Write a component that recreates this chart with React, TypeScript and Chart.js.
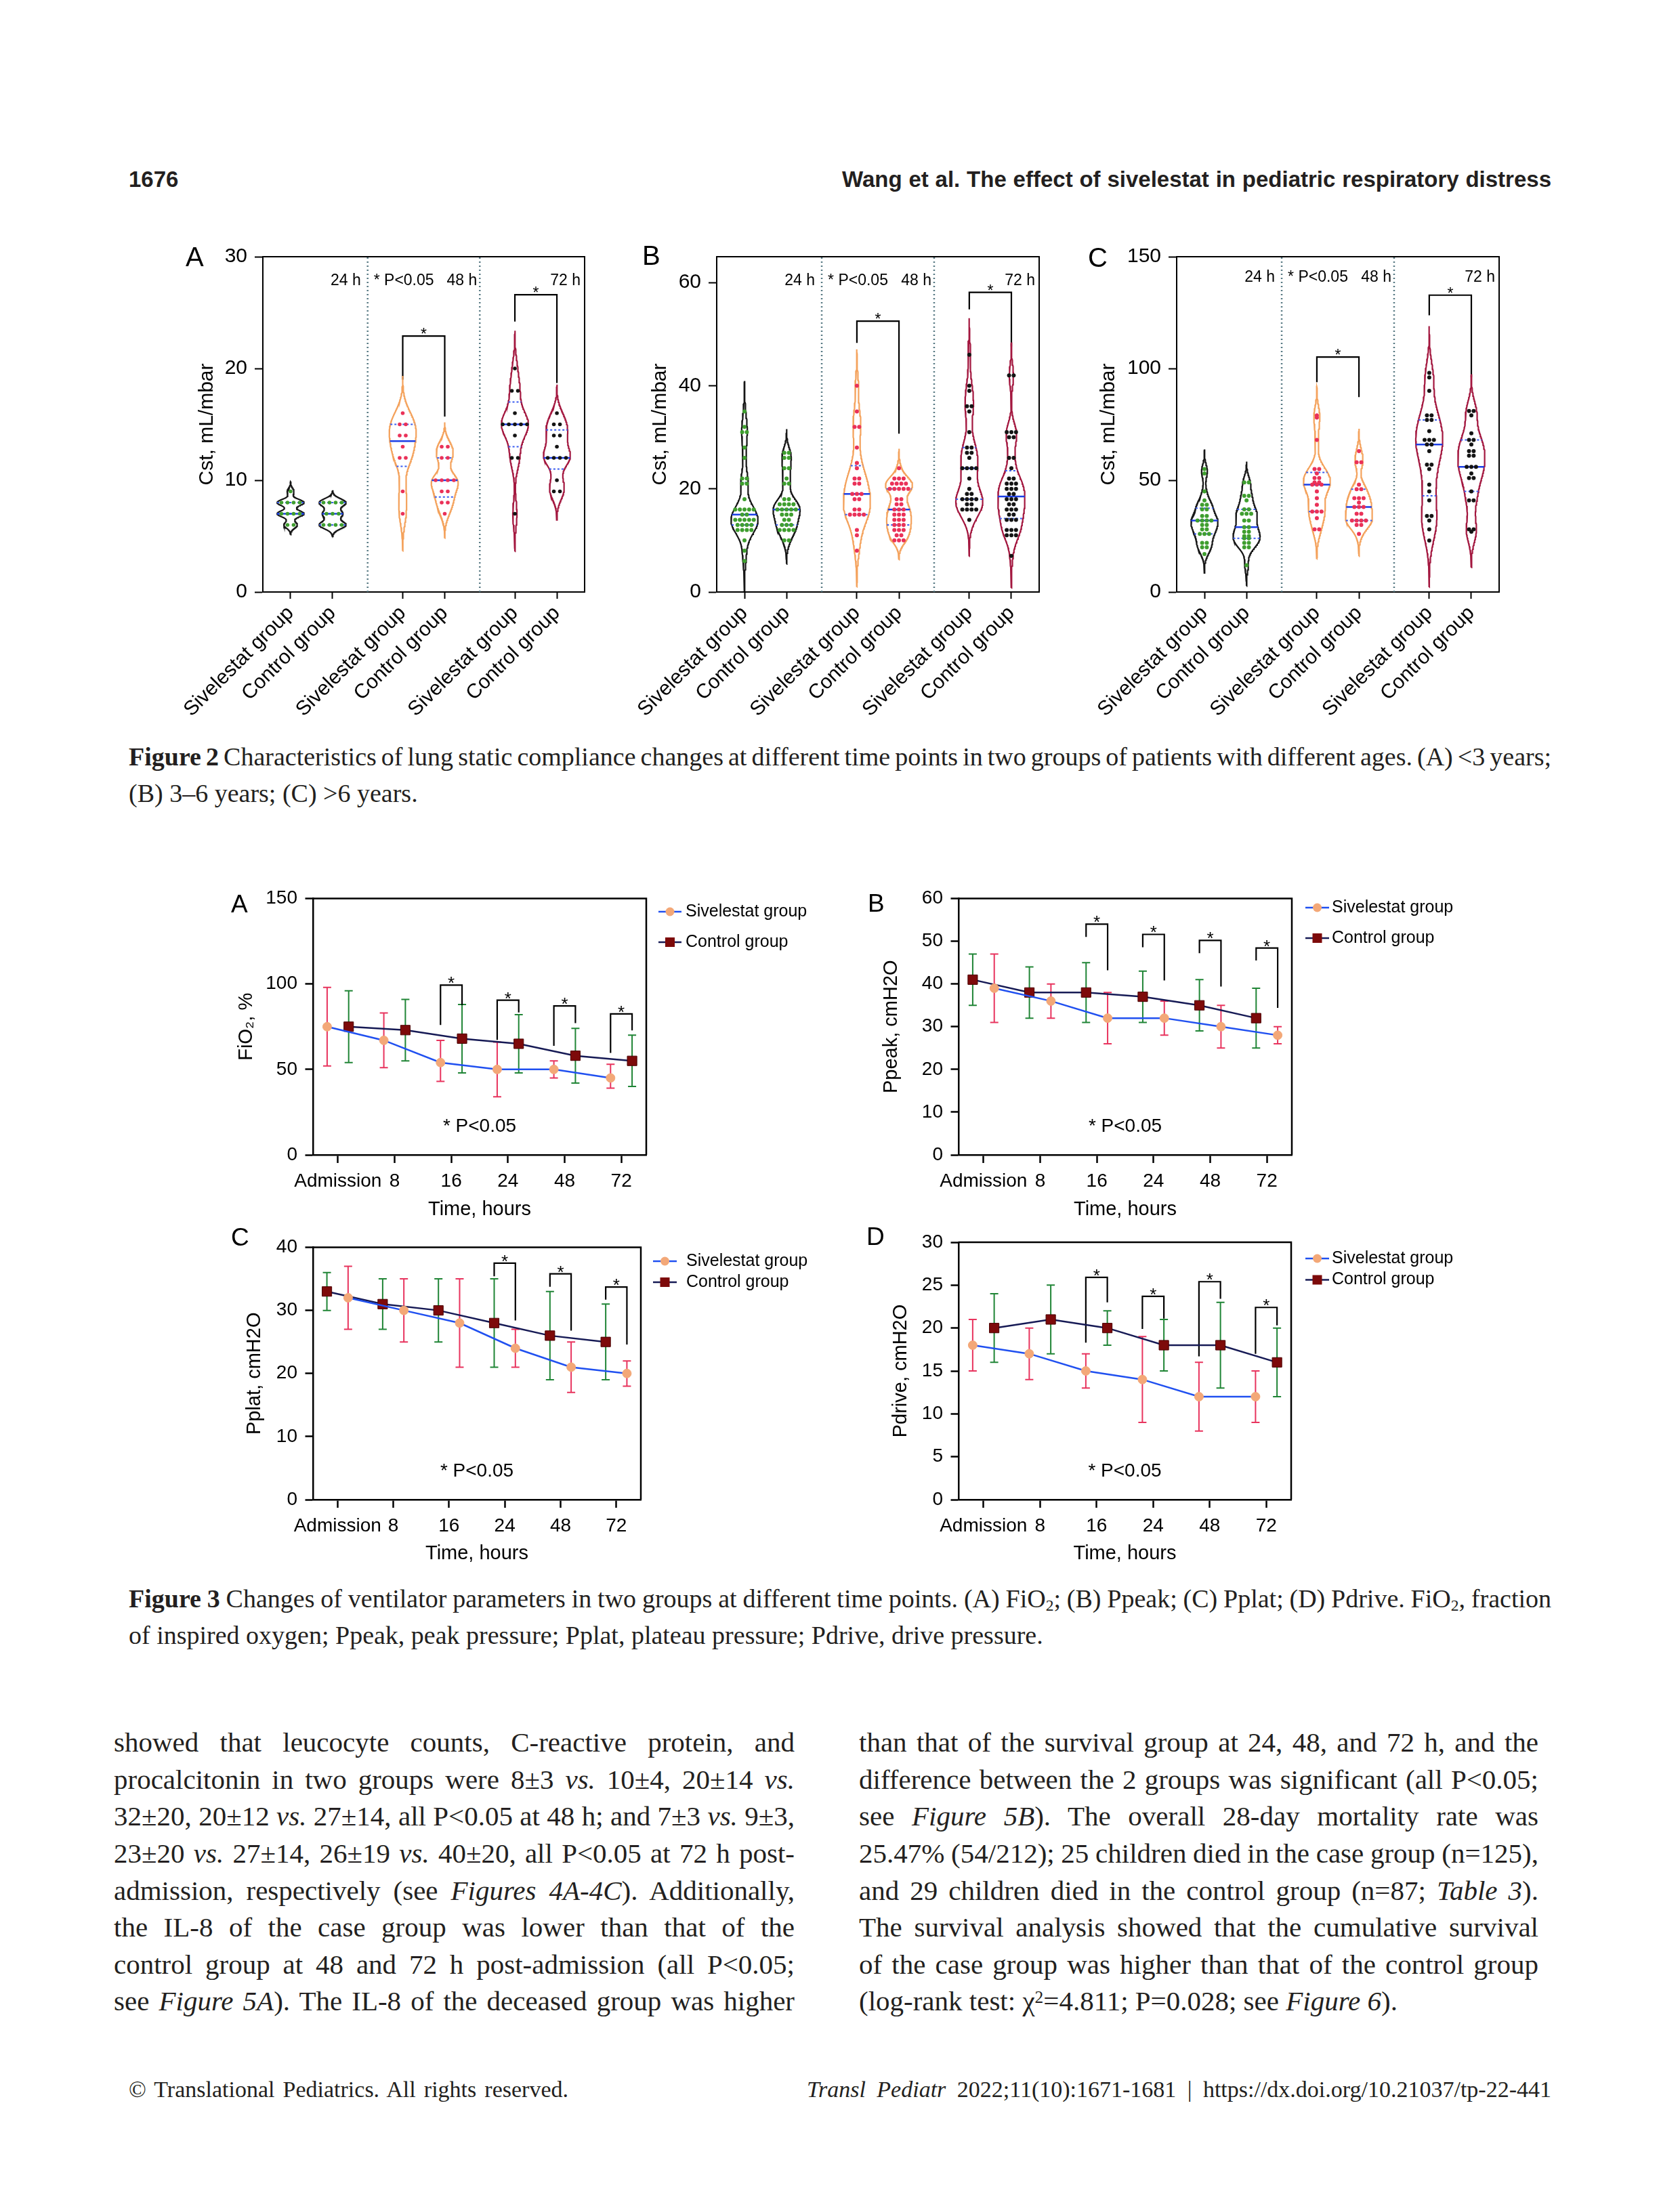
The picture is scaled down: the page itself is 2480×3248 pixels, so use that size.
import React, { useEffect, useLayoutEffect, useRef } from 'react';
import { Chart, registerables } from 'chart.js';

Chart.register(...registerables);

const SANS = '"Liberation Sans", Arial, Helvetica, sans-serif';
const SERIF = '"Liberation Serif", "Times New Roman", serif';
const INK = '#231f20';
const PAGE_W = 2480;
const PAGE_H = 3248;

Chart.defaults.font.family = SANS;
Chart.defaults.color = '#000';

// ================= Figure 2 data: Cst, mL/mbar =================
const fig2GroupLabels = ['Sivelestat group', 'Control group'];
const fig2TimeLabels = ['24 h', '48 h', '72 h'];
const fig2Note = '* P<0.05';
const fig2YTitle = 'Cst, mL/mbar';

// (A) <3 years
const cstA24Siv = [9, 8, 8, 8, 8, 7, 7, 7, 7, 6, 6];
const cstA24Ctrl = [8, 8, 8, 8, 7, 7, 7, 6, 6, 6, 6];
const cstA48Siv = [16, 15, 15, 14, 14, 13, 12, 12, 9, 7];
const cstA48Ctrl = [13, 13, 12, 12, 10, 10, 10, 10, 9, 9, 8, 8, 7];
const cstA72Siv = [20, 18, 18, 16, 15, 15, 15, 15, 15, 14, 12, 12, 7];
const cstA72Ctrl = [16, 15, 15, 14, 14, 13, 12, 12, 12, 12, 10, 9, 9];
const cstATicks = [0, 10, 20, 30];
const cstABracketTop = [22.9, 26.6];
const cstABracketLeft = [19.0, 24.2];
const cstABracketRight = [15.7, 18.7];

// (B) 3-6 years
const cstB24Siv = [35, 32, 31, 31, 28, 26, 22, 22, 21, 21, 18, 16, 16, 16, 16, 16, 15, 15, 14, 14, 14, 14, 14, 13, 13, 13, 13, 12, 12, 12, 12, 10, 8, 6];
const cstB24Ctrl = [27, 27, 26, 26, 24, 24, 22, 21, 21, 18, 18, 17, 17, 17, 17, 16, 16, 16, 16, 16, 15, 15, 15, 14, 14, 13, 13, 13, 12, 12, 12, 12, 10, 10];
const cstB48Siv = [40, 35, 32, 32, 28, 25, 24, 22, 22, 21, 21, 19, 19, 19, 18, 18, 16, 16, 15, 15, 15, 15, 12, 11, 8];
const cstB48Ctrl = [24, 22, 22, 22, 21, 21, 21, 21, 20, 20, 20, 20, 20, 18, 18, 17, 17, 16, 16, 16, 15, 15, 15, 14, 14, 14, 13, 13, 13, 12, 12, 12, 11, 11, 10, 10, 10];
const cstB72Siv = [46, 40, 39, 36, 36, 35, 31, 28, 28, 27, 27, 26, 24, 24, 24, 24, 22, 20, 19, 19, 18, 18, 18, 18, 17, 17, 16, 16, 16, 16, 14];
const cstB72Ctrl = [42, 42, 31, 31, 31, 30, 30, 26, 26, 24, 22, 22, 21, 21, 21, 20, 20, 20, 19, 19, 18, 18, 18, 17, 17, 16, 16, 16, 15, 15, 14, 14, 14, 12, 12, 12, 11, 11, 11, 7];
const cstBTicks = [0, 20, 40, 60];
const cstBBracketTop = [52.5, 58.1];
const cstBBracketLeft = [48.3, 54.8];
const cstBBracketRight = [30.7, 47.6];

// (C) >6 years
const cstC24Siv = [55, 53, 45, 41, 39, 39, 37, 37, 34, 34, 32, 32, 32, 32, 30, 30, 28, 28, 26, 26, 26, 22, 22, 20, 20, 17];
const cstC24Ctrl = [49, 49, 43, 43, 41, 37, 37, 35, 35, 35, 32, 32, 29, 29, 27, 27, 25, 25, 24, 24, 22, 22, 20, 20, 12];
const cstC48Siv = [79, 78, 68, 55, 55, 53, 51, 51, 49, 49, 48, 48, 48, 45, 42, 39, 36, 36, 36, 33, 28, 28];
const cstC48Ctrl = [63, 58, 58, 48, 46, 46, 42, 42, 42, 40, 38, 38, 38, 35, 35, 32, 32, 32, 32, 30, 30, 26];
const cstC72Siv = [98, 96, 90, 79, 79, 77, 77, 72, 68, 68, 68, 66, 66, 63, 57, 57, 55, 48, 45, 41, 34, 34, 32, 28, 23];
const cstC72Ctrl = [81, 81, 79, 71, 68, 68, 66, 63, 63, 61, 61, 56, 56, 56, 53, 51, 51, 45, 41, 41, 28, 28, 27];
const cstCTicks = [0, 50, 100, 150];
const cstCBracketTop = [105.1, 132.8];
const cstCBracketLeft = [93.9, 123.8];
const cstCBracketRight = [87.2, 96.0];

// ================= Figure 3 data =================
const timeLabels = ['Admission', '8', '16', '24', '48', '72'];
const seriesNames = ['Sivelestat group', 'Control group'];
const timeTitle = 'Time, hours';
const fig3Note = '* P<0.05';

const fio2SivMean = [75, 67, 54, 50, 50, 45];
const fio2SivHi = [98, 83, 67, 66, 55, 53];
const fio2SivLo = [52, 51, 43, 34, 45, 39];
const fio2CtrlMean = [75, 73, 68, 65, 58, 55];
const fio2CtrlHi = [96, 91, 88, 82, 74, 70];
const fio2CtrlLo = [54, 55, 48, 48, 42, 40];
const fio2Ticks = [0, 50, 100, 150];
const fio2BracketAt = [2, 3, 4, 5];
const fio2BracketTop = [99.3, 90.5, 87.1, 82.5];
const fio2BracketLeft = [76, 67.3, 63.8, 59.6];
const fio2BracketRight = [87.6, 83.3, 77.1, 72.8];

const ppeakSivMean = [39, 36, 32, 32, 30, 28];
const ppeakSivHi = [47, 40, 38, 36, 35, 30];
const ppeakSivLo = [31, 32, 26, 28, 25, 26];
const ppeakCtrlMean = [41, 38, 38, 37, 35, 32];
const ppeakCtrlHi = [47, 44, 45, 43, 41, 39];
const ppeakCtrlLo = [35, 32, 31, 31, 29, 25];
const ppeakTicks = [0, 10, 20, 30, 40, 50, 60];
const ppeakBracketAt = [2, 3, 4, 5];
const ppeakBracketTop = [54, 51.6, 50.2, 48.4];
const ppeakBracketLeft = [51, 48.6, 47.2, 45.5];
const ppeakBracketRight = [43.2, 40.8, 39.4, 34.4];

const pplatSivMean = [32, 30, 28, 24, 21, 20];
const pplatSivHi = [37, 35, 35, 27, 25, 22];
const pplatSivLo = [27, 25, 21, 21, 17, 18];
const pplatCtrlMean = [33, 31, 30, 28, 26, 25];
const pplatCtrlHi = [36, 35, 35, 35, 33, 31];
const pplatCtrlLo = [30, 27, 25, 21, 19, 19];
const pplatTicks = [0, 10, 20, 30, 40];
const pplatBracketAt = [3, 4, 5];
const pplatBracketTop = [37.5, 35.8, 33.7];
const pplatBracketLeft = [35.4, 33.75, 31.7];
const pplatBracketRight = [28.4, 26.8, 24.6];

const pdriveSivMean = [18, 17, 15, 14, 12, 12];
const pdriveSivHi = [21, 20, 17, 19, 16, 15];
const pdriveSivLo = [15, 14, 13, 9, 8, 9];
const pdriveCtrlMean = [20, 21, 20, 18, 18, 16];
const pdriveCtrlHi = [24, 25, 22, 21, 23, 20];
const pdriveCtrlLo = [16, 17, 18, 15, 13, 12];
const pdriveTicks = [0, 5, 10, 15, 20, 25, 30];
const pdriveBracketAt = [2, 3, 4, 5];
const pdriveBracketTop = [25.9, 23.7, 25.4, 22.4];
const pdriveBracketLeft = [18.3, 19.9, 16.7, 17.0];
const pdriveBracketRight = [23.0, 21.1, 23.4, 20.3];

// ================= styles =================
const timeStyles = [
  { outline: '#161616', dot: '#3f9e2f' },
  { outline: '#f4a25c', dot: '#ea3158' },
  { outline: '#a3173f', dot: '#141414' },
];
const MEDIAN_COLOR = '#1c3fe6';
const QUART_COLOR = '#3a5cf0';
const SEP_COLOR = '#587a84';
const SIV_LINE = '#2050f0';
const SIV_PT = '#f3a878';
const SIV_ERR = '#e8345e';
const CTRL_LINE = '#161a55';
const CTRL_PT = '#7d0a0a';
const CTRL_ERR = '#208536';

// violin x layout (axis units)
const X0 = 0.66;
const PAIR = 2.67;
const XMAX = 7.66;
const HW = 0.32;
const BW_FACTOR = 0.7;
const KDE_CUT = 3;

// ================= helpers =================
function sortNum(a: number[]) {
  return [...a].sort((p, q) => p - q);
}
function quantile(s: number[], q: number) {
  const n = s.length;
  const h = (n + 1) * q - 1;
  if (h <= 0) return s[0];
  if (h >= n - 1) return s[n - 1];
  const i = Math.floor(h);
  return s[i] + (h - i) * (s[i + 1] - s[i]);
}
function makeKde(vals: number[]) {
  const s = sortNum(vals);
  const n = s.length;
  const mean = s.reduce((a, b) => a + b, 0) / n;
  const sd = Math.sqrt(s.reduce((a, b) => a + (b - mean) ** 2, 0) / (n - 1));
  const iqr = (quantile(s, 0.75) - quantile(s, 0.25)) / 1.34;
  const spread = iqr > 0 ? Math.min(sd, iqr) : sd;
  const h = BW_FACTOR * 0.9 * spread * Math.pow(n, -0.2);
  const lo = s[0] - KDE_CUT * h;
  const hi = s[n - 1] + KDE_CUT * h;
  const dens = (y: number) => s.reduce((a, v) => a + Math.exp(-0.5 * ((y - v) / h) ** 2), 0);
  const N = 200;
  const ys: number[] = [];
  let max = 0;
  for (let k = 0; k <= N; k++) {
    const y = lo + ((hi - lo) * k) / N;
    ys.push(y);
    max = Math.max(max, dens(y));
  }
  return { lo, hi, ys, w: (y: number) => dens(y) / max, s };
}
function swarm(values: number[], center: number, step: number) {
  const counts = new Map<number, number>();
  values.forEach((v) => counts.set(v, (counts.get(v) || 0) + 1));
  const seen = new Map<number, number>();
  return values.map((v) => {
    const n = counts.get(v) || 1;
    const k = seen.get(v) || 0;
    seen.set(v, k + 1);
    return { x: center + (k - (n - 1) / 2) * step, y: v };
  });
}

type Box = { x: number; y: number; w: number; h: number };
type Area = { l: number; r: number; t: number; b: number };

function layoutFor(canvas: Box, area: Area) {
  return {
    padTop: area.t - canvas.y,
    padRight: canvas.x + canvas.w - area.r,
    yW: area.l - canvas.x,
    xH: canvas.y + canvas.h - area.b,
  };
}

// ================= Figure 2 (violin) =================
type ViolinSpec = {
  letter: string;
  groups: number[][];
  yTicks: number[];
  yMax: number;
  bracketTop: number[];
  bracketLeft: number[];
  bracketRight: number[];
  canvas: Box;
  area: Area;
  titleCX: number;
  letterPos: { x: number; y: number };
  textDy: number;
  step: number;
  dotR: number;
};

function violinConfig(p: ViolinSpec) {
  const positions: number[] = [];
  for (let g = 0; g < 3; g++) for (let m = 0; m < 2; m++) positions.push(X0 + g * PAIR + m);
  const seps = [0, 1].map((g) => (positions[2 * g + 1] + positions[2 * g + 2]) / 2);
  const labels = positions.map((_, i) => fig2GroupLabels[i % 2]);
  const L = layoutFor(p.canvas, p.area);
  const datasets: any[] = [];
  const kdes = p.groups.map((vals) => makeKde(vals));

  p.groups.forEach((vals, i) => {
    const st = timeStyles[Math.floor(i / 2)];
    datasets.push({
      data: swarm(vals, positions[i], p.step),
      showLine: false,
      pointRadius: p.dotR,
      pointBackgroundColor: st.dot,
      pointBorderColor: st.dot,
      pointBorderWidth: 0,
    });
  });
  kdes.forEach((k, i) => {
    const seg = (y: number) => [
      { x: positions[i] - HW * k.w(y), y },
      { x: positions[i] + HW * k.w(y), y },
    ];
    datasets.push({ data: seg(quantile(k.s, 0.5)), showLine: true, borderColor: MEDIAN_COLOR, borderWidth: 2.5, pointRadius: 0 });
    datasets.push({ data: seg(quantile(k.s, 0.25)), showLine: true, borderColor: QUART_COLOR, borderWidth: 2, borderDash: [3, 3], pointRadius: 0 });
    datasets.push({ data: seg(quantile(k.s, 0.75)), showLine: true, borderColor: QUART_COLOR, borderWidth: 2, borderDash: [3, 3], pointRadius: 0 });
  });
  kdes.forEach((k, i) => {
    const pos = positions[i];
    const right = k.ys.map((y) => ({ x: pos + HW * k.w(y), y }));
    const left = [...k.ys].reverse().map((y) => ({ x: pos - HW * k.w(y), y }));
    datasets.push({
      data: [{ x: pos, y: k.lo }, ...right, { x: pos, y: k.hi }, ...left, { x: pos, y: k.lo }],
      showLine: true,
      borderColor: timeStyles[Math.floor(i / 2)].outline,
      borderWidth: 2.2,
      pointRadius: 0,
      tension: 0,
    });
  });
  p.bracketTop.forEach((top, k) => {
    const g = k + 1;
    const xl = positions[2 * g];
    const xr = positions[2 * g + 1];
    datasets.push({
      data: [
        { x: xl, y: p.bracketLeft[k] },
        { x: xl, y: top },
        { x: xr, y: top },
        { x: xr, y: p.bracketRight[k] },
      ],
      showLine: true,
      borderColor: '#000',
      borderWidth: 2.2,
      pointRadius: 0,
    });
  });
  seps.forEach((s) => {
    datasets.push({
      data: [{ x: s, y: 0 }, { x: s, y: p.yMax }],
      showLine: true,
      borderColor: SEP_COLOR,
      borderWidth: 2.5,
      borderDash: [2, 4],
      pointRadius: 0,
    });
  });

  const deco = {
    id: 'violinDeco',
    afterDatasetsDraw(chart: any) {
      const { ctx, chartArea: a, scales } = chart;
      const x = scales.x;
      const y = scales.y;
      ctx.save();
      ctx.strokeStyle = '#000';
      ctx.lineWidth = 2;
      ctx.beginPath();
      ctx.moveTo(a.left, a.top);
      ctx.lineTo(a.right, a.top);
      ctx.lineTo(a.right, a.bottom);
      ctx.stroke();
      ctx.fillStyle = '#000';
      ctx.font = `23px ${SANS}`;
      ctx.textBaseline = 'middle';
      const ty = a.top + p.textDy;
      const s1 = x.getPixelForValue(seps[0]);
      const s2 = x.getPixelForValue(seps[1]);
      ctx.textAlign = 'right';
      ctx.fillText(fig2TimeLabels[0], s1 - 10, ty);
      ctx.textAlign = 'left';
      ctx.fillText(fig2Note, s1 + 9, ty);
      ctx.textAlign = 'right';
      ctx.fillText(fig2TimeLabels[1], s2 - 4, ty);
      ctx.fillText(fig2TimeLabels[2], a.right - 6, ty);
      ctx.textAlign = 'center';
      ctx.textBaseline = 'alphabetic';
      p.bracketTop.forEach((top, k) => {
        const g = k + 1;
        const cx = (x.getPixelForValue(positions[2 * g]) + x.getPixelForValue(positions[2 * g + 1])) / 2;
        ctx.fillText('*', cx, y.getPixelForValue(top) + 5);
      });
      ctx.font = `40px ${SANS}`;
      ctx.textAlign = 'left';
      ctx.fillText(p.letter, p.letterPos.x - p.canvas.x, p.letterPos.y - p.canvas.y);
      ctx.restore();
    },
  };

  return {
    type: 'scatter',
    data: { datasets },
    plugins: [deco],
    options: {
      animation: false,
      responsive: false,
      devicePixelRatio: 1,
      events: [],
      layout: { padding: { left: 0, top: L.padTop, right: L.padRight, bottom: 0 } },
      plugins: { legend: { display: false }, tooltip: { enabled: false } },
      scales: {
        x: {
          type: 'linear',
          bounds: 'data',
          min: 0,
          max: XMAX,
          afterBuildTicks: (ax: any) => {
            ax.ticks = positions.map((v) => ({ value: v }));
          },
          afterFit: (ax: any) => {
            ax.height = L.xH;
            ax.paddingLeft = 0;
            ax.paddingRight = 0;
          },
          ticks: {
            callback: (_v: any, i: number) => labels[i],
            autoSkip: false,
            minRotation: 45,
            maxRotation: 45,
            padding: 4,
            color: '#000',
            font: { family: SANS, size: 30 },
          },
          grid: { display: true, drawOnChartArea: false, drawTicks: true, tickLength: 10, tickWidth: 2, tickColor: '#000' },
          border: { display: true, color: '#000', width: 2 },
        },
        y: {
          type: 'linear',
          bounds: 'data',
          min: 0,
          max: p.yMax,
          afterBuildTicks: (ax: any) => {
            ax.ticks = p.yTicks.map((v) => ({ value: v }));
          },
          afterFit: (ax: any) => {
            ax.width = L.yW;
            ax.paddingTop = 0;
            ax.paddingBottom = 0;
          },
          ticks: { padding: 11, color: '#000', font: { family: SANS, size: 30 } },
          grid: { display: true, drawOnChartArea: false, drawTicks: true, tickLength: 12, tickWidth: 2, tickColor: '#000' },
          border: { display: true, color: '#000', width: 2 },
          title: {
            display: true,
            text: fig2YTitle,
            color: '#000',
            font: { family: SANS, size: 30 },
            padding: { top: p.titleCX - p.canvas.x - 18, bottom: 0 },
          },
        },
      },
    },
  };
}

// ================= Figure 3 (lines with error bars) =================
type LineSpec = {
  letter: string;
  yTitle: string;
  yTicks: number[];
  siv: number[];
  sivHi: number[];
  sivLo: number[];
  ctrl: number[];
  ctrlHi: number[];
  ctrlLo: number[];
  bracketAt: number[];
  bracketTop: number[];
  bracketLeft: number[];
  bracketRight: number[];
  sivOff: number;
  ctrlOff: number;
  canvas: Box;
  area: Area;
  titleCX: number;
  xTitleCY: number;
  letterPos: { x: number; y: number };
  legend: { x0: number; x1: number; tx: number; y1: number; y2: number };
};

function lineConfig(p: LineSpec) {
  const L = layoutFor(p.canvas, p.area);
  const yMax = p.yTicks[p.yTicks.length - 1];
  const sivPts = p.siv.map((v, i) => ({ x: i + p.sivOff, y: v }));
  const ctrlPts = p.ctrl.map((v, i) => ({ x: i + p.ctrlOff, y: v }));
  const datasets: any[] = [
    {
      label: seriesNames[0],
      data: sivPts,
      showLine: true,
      borderColor: SIV_LINE,
      borderWidth: 2.5,
      pointStyle: 'circle',
      pointRadius: 6.5,
      pointBackgroundColor: SIV_PT,
      pointBorderColor: SIV_PT,
      pointBorderWidth: 1,
    },
    {
      label: seriesNames[1],
      data: ctrlPts,
      showLine: true,
      borderColor: CTRL_LINE,
      borderWidth: 2.5,
      pointStyle: 'rect',
      pointRadius: 10,
      pointBackgroundColor: CTRL_PT,
      pointBorderColor: '#4a0000',
      pointBorderWidth: 1,
    },
  ];
  p.bracketAt.forEach((t, k) => {
    const xl = t + Math.min(p.sivOff, p.ctrlOff);
    const xr = t + Math.max(p.sivOff, p.ctrlOff);
    datasets.push({
      data: [
        { x: xl, y: p.bracketLeft[k] },
        { x: xl, y: p.bracketTop[k] },
        { x: xr, y: p.bracketTop[k] },
        { x: xr, y: p.bracketRight[k] },
      ],
      showLine: true,
      borderColor: '#000',
      borderWidth: 2.2,
      pointRadius: 0,
    });
  });

  const errSets = [
    { pts: sivPts, hi: p.sivHi, lo: p.sivLo, color: SIV_ERR },
    { pts: ctrlPts, hi: p.ctrlHi, lo: p.ctrlLo, color: CTRL_ERR },
  ];

  const deco = {
    id: 'lineDeco',
    beforeDatasetsDraw(chart: any) {
      const { ctx, scales } = chart;
      const x = scales.x;
      const y = scales.y;
      ctx.save();
      ctx.lineWidth = 2;
      errSets.forEach((e) => {
        ctx.strokeStyle = e.color;
        e.pts.forEach((pt, i) => {
          const px = x.getPixelForValue(pt.x);
          const yh = y.getPixelForValue(e.hi[i]);
          const yl = y.getPixelForValue(e.lo[i]);
          ctx.beginPath();
          ctx.moveTo(px, yh);
          ctx.lineTo(px, yl);
          ctx.moveTo(px - 6, yh);
          ctx.lineTo(px + 6, yh);
          ctx.moveTo(px - 6, yl);
          ctx.lineTo(px + 6, yl);
          ctx.stroke();
        });
      });
      ctx.restore();
    },
    afterDatasetsDraw(chart: any) {
      const { ctx, chartArea: a, scales } = chart;
      const x = scales.x;
      const y = scales.y;
      ctx.save();
      ctx.strokeStyle = '#000';
      ctx.lineWidth = 2.5;
      ctx.beginPath();
      ctx.moveTo(a.left, a.top);
      ctx.lineTo(a.right, a.top);
      ctx.lineTo(a.right, a.bottom);
      ctx.stroke();
      ctx.fillStyle = '#000';
      ctx.font = `26px ${SANS}`;
      ctx.textAlign = 'center';
      ctx.textBaseline = 'alphabetic';
      p.bracketAt.forEach((t, k) => {
        ctx.fillText('*', x.getPixelForValue(t), y.getPixelForValue(p.bracketTop[k]) + 6);
      });
      ctx.font = `28px ${SANS}`;
      ctx.textBaseline = 'middle';
      ctx.fillText(fig3Note, x.getPixelForValue(2.5), a.bottom - 42);
      // legend
      const items = [
        { ds: chart.data.datasets[0], y: a.top + p.legend.y1 },
        { ds: chart.data.datasets[1], y: a.top + p.legend.y2 },
      ];
      items.forEach((it) => {
        const x0 = a.right + p.legend.x0;
        const x1 = a.right + p.legend.x1;
        const cx = (x0 + x1) / 2;
        ctx.strokeStyle = it.ds.borderColor;
        ctx.lineWidth = 2.5;
        ctx.beginPath();
        ctx.moveTo(x0, it.y);
        ctx.lineTo(x1, it.y);
        ctx.stroke();
        ctx.fillStyle = it.ds.pointBackgroundColor;
        if (it.ds.pointStyle === 'rect') {
          ctx.fillRect(cx - 7, it.y - 7, 14, 14);
        } else {
          ctx.beginPath();
          ctx.arc(cx, it.y, 6.5, 0, Math.PI * 2);
          ctx.fill();
        }
        ctx.fillStyle = '#000';
        ctx.font = `25px ${SANS}`;
        ctx.textAlign = 'left';
        ctx.textBaseline = 'middle';
        ctx.fillText(it.ds.label, a.right + p.legend.tx, it.y);
      });
      ctx.font = `37px ${SANS}`;
      ctx.textAlign = 'left';
      ctx.textBaseline = 'alphabetic';
      ctx.fillText(p.letter, p.letterPos.x - p.canvas.x, p.letterPos.y - p.canvas.y);
      ctx.restore();
    },
  };

  const xTitleFs = 29;
  return {
    type: 'scatter',
    data: { datasets },
    plugins: [deco],
    options: {
      animation: false,
      responsive: false,
      devicePixelRatio: 1,
      events: [],
      layout: { padding: { left: 0, top: L.padTop, right: L.padRight, bottom: 0 } },
      plugins: { legend: { display: false }, tooltip: { enabled: false } },
      scales: {
        x: {
          type: 'linear',
          bounds: 'data',
          min: -0.44,
          max: timeLabels.length - 1 + 0.44,
          afterBuildTicks: (ax: any) => {
            ax.ticks = timeLabels.map((_, i) => ({ value: i }));
          },
          afterFit: (ax: any) => {
            ax.height = L.xH;
            ax.paddingLeft = 0;
            ax.paddingRight = 0;
          },
          ticks: {
            callback: (_v: any, i: number) => timeLabels[i],
            autoSkip: false,
            maxRotation: 0,
            minRotation: 0,
            padding: 10,
            color: '#000',
            font: { family: SANS, size: 28 },
          },
          grid: { display: true, drawOnChartArea: false, drawTicks: true, tickLength: 12, tickWidth: 2.5, tickColor: '#000' },
          border: { display: true, color: '#000', width: 2.5 },
          title: {
            display: true,
            text: timeTitle,
            color: '#000',
            font: { family: SANS, size: xTitleFs },
            padding: { top: 0, bottom: p.canvas.y + p.canvas.h - p.xTitleCY - 0.6 * xTitleFs },
          },
        },
        y: {
          type: 'linear',
          bounds: 'data',
          min: 0,
          max: yMax,
          afterBuildTicks: (ax: any) => {
            ax.ticks = p.yTicks.map((v) => ({ value: v }));
          },
          afterFit: (ax: any) => {
            ax.width = L.yW;
            ax.paddingTop = 0;
            ax.paddingBottom = 0;
          },
          ticks: { padding: 11.5, color: '#000', font: { family: SANS, size: 28 } },
          grid: { display: true, drawOnChartArea: false, drawTicks: true, tickLength: 11.5, tickWidth: 2.5, tickColor: '#000' },
          border: { display: true, color: '#000', width: 2.5 },
          title: {
            display: true,
            text: p.yTitle,
            color: '#000',
            font: { family: SANS, size: 29 },
            padding: { top: p.titleCX - p.canvas.x - 17.4, bottom: 0 },
          },
        },
      },
    },
  };
}

// ================= panel specs =================
const violinPanels: ViolinSpec[] = [
  {
    letter: 'A',
    groups: [cstA24Siv, cstA24Ctrl, cstA48Siv, cstA48Ctrl, cstA72Siv, cstA72Ctrl],
    yTicks: cstATicks,
    yMax: 30,
    bracketTop: cstABracketTop,
    bracketLeft: cstABracketLeft,
    bracketRight: cstABracketRight,
    canvas: { x: 250, y: 340, w: 630, h: 740 },
    area: { l: 388, r: 863, t: 379, b: 874 },
    titleCX: 306,
    letterPos: { x: 274, y: 393 },
    textDy: 36,
    step: 0.145,
    dotR: 2.8,
  },
  {
    letter: 'B',
    groups: [cstB24Siv, cstB24Ctrl, cstB48Siv, cstB48Ctrl, cstB72Siv, cstB72Ctrl],
    yTicks: cstBTicks,
    yMax: 65,
    bracketTop: cstBBracketTop,
    bracketLeft: cstBBracketLeft,
    bracketRight: cstBBracketRight,
    canvas: { x: 920, y: 340, w: 630, h: 740 },
    area: { l: 1058, r: 1534, t: 379, b: 874 },
    titleCX: 975,
    letterPos: { x: 948, y: 391 },
    textDy: 36,
    step: 0.11,
    dotR: 3,
  },
  {
    letter: 'C',
    groups: [cstC24Siv, cstC24Ctrl, cstC48Siv, cstC48Ctrl, cstC72Siv, cstC72Ctrl],
    yTicks: cstCTicks,
    yMax: 150,
    bracketTop: cstCBracketTop,
    bracketLeft: cstCBracketLeft,
    bracketRight: cstCBracketRight,
    canvas: { x: 1590, y: 340, w: 640, h: 740 },
    area: { l: 1737, r: 2213, t: 379, b: 874 },
    titleCX: 1637,
    letterPos: { x: 1606, y: 394 },
    textDy: 31,
    step: 0.11,
    dotR: 3,
  },
];

const linePanels: LineSpec[] = [
  {
    letter: 'A',
    yTitle: 'FiO\u2082, %',
    yTicks: fio2Ticks,
    siv: fio2SivMean, sivHi: fio2SivHi, sivLo: fio2SivLo,
    ctrl: fio2CtrlMean, ctrlHi: fio2CtrlHi, ctrlLo: fio2CtrlLo,
    bracketAt: fio2BracketAt, bracketTop: fio2BracketTop, bracketLeft: fio2BracketLeft, bracketRight: fio2BracketRight,
    sivOff: -0.19, ctrlOff: 0.19,
    canvas: { x: 330, y: 1300, w: 910, h: 510 },
    area: { l: 462, r: 954, t: 1326.5, b: 1705 },
    titleCX: 364,
    xTitleCY: 1786,
    letterPos: { x: 341, y: 1347 },
    legend: { x0: 18, x1: 52, tx: 58, y1: 19.5, y2: 64.5 },
  },
  {
    letter: 'B',
    yTitle: 'Ppeak, cmH2O',
    yTicks: ppeakTicks,
    siv: ppeakSivMean, sivHi: ppeakSivHi, sivLo: ppeakSivLo,
    ctrl: ppeakCtrlMean, ctrlHi: ppeakCtrlHi, ctrlLo: ppeakCtrlLo,
    bracketAt: ppeakBracketAt, bracketTop: ppeakBracketTop, bracketLeft: ppeakBracketLeft, bracketRight: ppeakBracketRight,
    sivOff: 0.19, ctrlOff: -0.19,
    canvas: { x: 1270, y: 1300, w: 930, h: 510 },
    area: { l: 1415, r: 1907, t: 1326.5, b: 1705 },
    titleCX: 1316,
    xTitleCY: 1786,
    letterPos: { x: 1281, y: 1346 },
    legend: { x0: 20, x1: 55, tx: 59, y1: 13.5, y2: 58.5 },
  },
  {
    letter: 'C',
    yTitle: 'Pplat, cmH2O',
    yTicks: pplatTicks,
    siv: pplatSivMean, sivHi: pplatSivHi, sivLo: pplatSivLo,
    ctrl: pplatCtrlMean, ctrlHi: pplatCtrlHi, ctrlLo: pplatCtrlLo,
    bracketAt: pplatBracketAt, bracketTop: pplatBracketTop, bracketLeft: pplatBracketLeft, bracketRight: pplatBracketRight,
    sivOff: 0.19, ctrlOff: -0.19,
    canvas: { x: 330, y: 1790, w: 910, h: 530 },
    area: { l: 462, r: 946, t: 1841.5, b: 2214 },
    titleCX: 376,
    xTitleCY: 2294,
    letterPos: { x: 341, y: 1839 },
    legend: { x0: 18, x1: 53, tx: 67, y1: 20.5, y2: 51.5 },
  },
  {
    letter: 'D',
    yTitle: 'Pdrive, cmH2O',
    yTicks: pdriveTicks,
    siv: pdriveSivMean, sivHi: pdriveSivHi, sivLo: pdriveSivLo,
    ctrl: pdriveCtrlMean, ctrlHi: pdriveCtrlHi, ctrlLo: pdriveCtrlLo,
    bracketAt: pdriveBracketAt, bracketTop: pdriveBracketTop, bracketLeft: pdriveBracketLeft, bracketRight: pdriveBracketRight,
    sivOff: -0.19, ctrlOff: 0.19,
    canvas: { x: 1270, y: 1790, w: 930, h: 530 },
    area: { l: 1415, r: 1906, t: 1834, b: 2214 },
    titleCX: 1330,
    xTitleCY: 2294,
    letterPos: { x: 1279, y: 1838 },
    legend: { x0: 21, x1: 56, tx: 60, y1: 24, y2: 55.5 },
  },
];

// ================= components =================
function ChartCanvas({ box, make }: { box: Box; make: () => any }) {
  const ref = useRef<HTMLCanvasElement>(null);
  useEffect(() => {
    if (!ref.current) return;
    const chart = new Chart(ref.current, make());
    return () => chart.destroy();
  }, []);
  return (
    <canvas
      ref={ref}
      width={box.w}
      height={box.h}
      style={{ position: 'absolute', left: box.x, top: box.y, width: box.w, height: box.h }}
    />
  );
}

function Line({ x, right, base, fs, serif = true, bold = false, width, children }: any) {
  const ref = useRef<HTMLDivElement>(null);
  useLayoutEffect(() => {
    const el = ref.current;
    if (!el || !width) return;
    el.style.wordSpacing = '0px';
    const w = el.getBoundingClientRect().width;
    const n = (el.textContent || '').split(' ').length - 1;
    if (n > 0) el.style.wordSpacing = `${(width - w) / n}px`;
  }, [width]);
  const shift = serif ? 0.3375 : 0.3465;
  const style: any = {
    position: 'absolute',
    top: base - shift * fs,
    whiteSpace: 'pre',
    lineHeight: 0,
    fontSize: fs,
    fontFamily: serif ? SERIF : SANS,
    fontWeight: bold ? 700 : 400,
    color: INK,
  };
  if (right !== undefined) style.right = PAGE_W - right;
  else style.left = x;
  return (
    <div ref={ref} style={style}>
      {children}
    </div>
  );
}

const I = ({ children }: any) => <span style={{ fontStyle: 'italic' }}>{children}</span>;
const Sub = ({ children }: any) => (
  <span style={{ fontSize: '0.62em', position: 'relative', top: '0.22em' }}>{children}</span>
);
const Sup = ({ children }: any) => (
  <span style={{ fontSize: '0.62em', position: 'relative', top: '-0.45em' }}>{children}</span>
);

const bodyLeft = [
  <>showed that leucocyte counts, C-reactive protein, and</>,
  <>procalcitonin in two groups were 8±3 <I>vs.</I> 10±4, 20±14 <I>vs.</I></>,
  <>32±20, 20±12 <I>vs.</I> 27±14, all P&lt;0.05 at 48 h; and 7±3 <I>vs.</I> 9±3,</>,
  <>23±20 <I>vs.</I> 27±14, 26±19 <I>vs.</I> 40±20, all P&lt;0.05 at 72 h post-</>,
  <>admission, respectively (see <I>Figures 4A-4C</I>). Additionally,</>,
  <>the IL-8 of the case group was lower than that of the</>,
  <>control group at 48 and 72 h post-admission (all P&lt;0.05;</>,
  <>see <I>Figure 5A</I>). The IL-8 of the deceased group was higher</>,
];
const bodyRight = [
  <>than that of the survival group at 24, 48, and 72 h, and the</>,
  <>difference between the 2 groups was significant (all P&lt;0.05;</>,
  <>see <I>Figure 5B</I>). The overall 28-day mortality rate was</>,
  <>25.47% (54/212); 25 children died in the case group (n=125),</>,
  <>and 29 children died in the control group (n=87; <I>Table 3</I>).</>,
  <>The survival analysis showed that the cumulative survival</>,
  <>of the case group was higher than that of the control group</>,
  <>(log-rank test: χ<Sup>2</Sup>=4.811; P=0.028; see <I>Figure 6</I>).</>,
];

export default function App() {
  const bodyBase = 2586;
  const bodyStep = 54.6;
  return (
    <div
      style={{
        position: 'absolute',
        left: 0,
        top: 0,
        width: PAGE_W,
        height: PAGE_H,
        background: '#fff',
        overflow: 'hidden',
      }}
    >
      {/* running header */}
      <Line x={190} base={276} fs={33} serif={false} bold>
        1676
      </Line>
      <Line x={1243} base={276} fs={33} serif={false} bold width={1047}>
        Wang et al. The effect of sivelestat in pediatric respiratory distress
      </Line>

      {violinPanels.map((p, i) => (
        <ChartCanvas key={'v' + i} box={p.canvas} make={() => violinConfig(p)} />
      ))}

      <Line x={190} base={1130} fs={38} width={2100}>
        <b>Figure 2</b> Characteristics of lung static compliance changes at different time points in two groups of patients with different ages. (A) &lt;3 years;
      </Line>
      <Line x={190} base={1184} fs={38}>
        (B) 3–6 years; (C) &gt;6 years.
      </Line>

      {linePanels.map((p, i) => (
        <ChartCanvas key={'l' + i} box={p.canvas} make={() => lineConfig(p)} />
      ))}

      <Line x={190} base={2373} fs={38} width={2100}>
        <b>Figure 3</b> Changes of ventilator parameters in two groups at different time points. (A) FiO<Sub>2</Sub>; (B) Ppeak; (C) Pplat; (D) Pdrive. FiO<Sub>2</Sub>, fraction
      </Line>
      <Line x={190} base={2427} fs={38}>
        of inspired oxygen; Ppeak, peak pressure; Pplat, plateau pressure; Pdrive, drive pressure.
      </Line>

      {bodyLeft.map((c, i) => (
        <Line key={'bl' + i} x={168} base={bodyBase + i * bodyStep} fs={41} width={1005}>
          {c}
        </Line>
      ))}
      {bodyRight.map((c, i) => (
        <Line
          key={'br' + i}
          x={1268}
          base={bodyBase + i * bodyStep}
          fs={41}
          width={i < bodyRight.length - 1 ? 1003 : undefined}
        >
          {c}
        </Line>
      ))}

      <Line x={190} base={3096} fs={34} width={649}>
        © Translational Pediatrics. All rights reserved.
      </Line>
      <Line x={1191} base={3096} fs={34} width={1099}>
        <I>Transl Pediatr</I> 2022;11(10):1671-1681 | https://dx.doi.org/10.21037/tp-22-441
      </Line>
    </div>
  );
}
